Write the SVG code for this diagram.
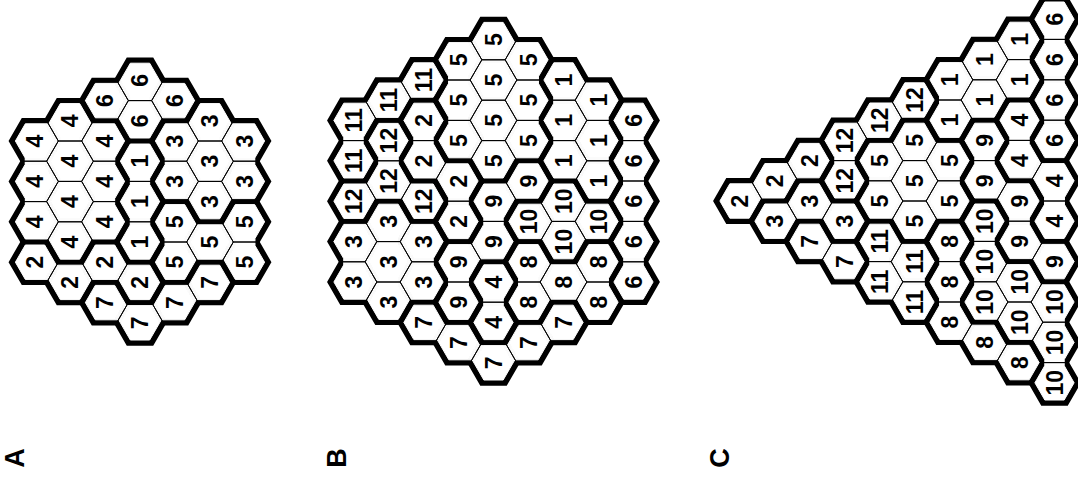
<svg xmlns="http://www.w3.org/2000/svg" width="1078" height="489" viewBox="0 0 1078 489">
<style>
.blk{fill:#000;stroke:#000;stroke-width:5.4;stroke-linejoin:miter}
.wht{fill:#fff;stroke:#fff;stroke-width:1;filter:url(#er)}
.thin{fill:none;stroke:#000;stroke-width:1}
.t text{font-family:"Liberation Sans",Arial,sans-serif;font-weight:bold;font-size:23px;text-anchor:middle;dominant-baseline:central;fill:#000}
.t text.big{font-size:27px}
</style>
<defs>
<polygon id="hx" points="23.33,0 11.67,20.2 -11.67,20.2 -23.33,0 -11.67,-20.2 11.67,-20.2"/>
<filter id="er" x="-20%" y="-20%" width="140%" height="140%" color-interpolation-filters="sRGB"><feMorphology operator="erode" radius="2 3"/></filter>

<g id="A-r1"><use href="#hx" x="105" y="-40.4"/><use href="#hx" x="105" y="0"/><use href="#hx" x="105" y="40.4"/></g>
<g id="A-r2"><use href="#hx" x="0" y="60.6"/><use href="#hx" x="35" y="80.8"/><use href="#hx" x="70" y="60.6"/><use href="#hx" x="105" y="80.8"/></g>
<g id="A-r3"><use href="#hx" x="140" y="-60.6"/><use href="#hx" x="140" y="-20.2"/><use href="#hx" x="175" y="-80.8"/><use href="#hx" x="175" y="-40.4"/><use href="#hx" x="175" y="0"/><use href="#hx" x="210" y="-60.6"/><use href="#hx" x="210" y="-20.2"/></g>
<g id="A-r4"><use href="#hx" x="0" y="-60.6"/><use href="#hx" x="0" y="-20.2"/><use href="#hx" x="0" y="20.2"/><use href="#hx" x="35" y="-80.8"/><use href="#hx" x="35" y="-40.4"/><use href="#hx" x="35" y="0"/><use href="#hx" x="35" y="40.4"/><use href="#hx" x="70" y="-60.6"/><use href="#hx" x="70" y="-20.2"/><use href="#hx" x="70" y="20.2"/></g>
<g id="A-r5"><use href="#hx" x="140" y="20.2"/><use href="#hx" x="140" y="60.6"/><use href="#hx" x="175" y="40.4"/><use href="#hx" x="210" y="20.2"/><use href="#hx" x="210" y="60.6"/></g>
<g id="A-r6"><use href="#hx" x="70" y="-101"/><use href="#hx" x="105" y="-121.2"/><use href="#hx" x="105" y="-80.8"/><use href="#hx" x="140" y="-101"/></g>
<g id="A-r7"><use href="#hx" x="70" y="101"/><use href="#hx" x="105" y="121.2"/><use href="#hx" x="140" y="101"/><use href="#hx" x="175" y="80.8"/></g>
<g id="A-all"><use href="#A-r1"/><use href="#A-r2"/><use href="#A-r3"/><use href="#A-r4"/><use href="#A-r5"/><use href="#A-r6"/><use href="#A-r7"/></g>

<g id="B-r1"><use href="#hx" x="210" y="-121.2"/><use href="#hx" x="210" y="-80.8"/><use href="#hx" x="210" y="-40.4"/><use href="#hx" x="245" y="-101"/><use href="#hx" x="245" y="-60.6"/><use href="#hx" x="245" y="-20.2"/></g>
<g id="B-r2"><use href="#hx" x="70" y="-80.8"/><use href="#hx" x="70" y="-40.4"/><use href="#hx" x="105" y="-20.2"/><use href="#hx" x="105" y="20.2"/></g>
<g id="B-r3"><use href="#hx" x="0" y="40.4"/><use href="#hx" x="0" y="80.8"/><use href="#hx" x="35" y="20.2"/><use href="#hx" x="35" y="60.6"/><use href="#hx" x="35" y="101"/><use href="#hx" x="70" y="40.4"/><use href="#hx" x="70" y="80.8"/></g>
<g id="B-r4"><use href="#hx" x="140" y="80.8"/><use href="#hx" x="140" y="121.2"/></g>
<g id="B-r5"><use href="#hx" x="105" y="-141.4"/><use href="#hx" x="105" y="-101"/><use href="#hx" x="105" y="-60.6"/><use href="#hx" x="140" y="-161.6"/><use href="#hx" x="140" y="-121.2"/><use href="#hx" x="140" y="-80.8"/><use href="#hx" x="140" y="-40.4"/><use href="#hx" x="175" y="-141.4"/><use href="#hx" x="175" y="-101"/><use href="#hx" x="175" y="-60.6"/></g>
<g id="B-r6"><use href="#hx" x="280" y="-80.8"/><use href="#hx" x="280" y="-40.4"/><use href="#hx" x="280" y="0"/><use href="#hx" x="280" y="40.4"/><use href="#hx" x="280" y="80.8"/></g>
<g id="B-r7"><use href="#hx" x="70" y="121.2"/><use href="#hx" x="105" y="141.4"/><use href="#hx" x="140" y="161.6"/><use href="#hx" x="175" y="141.4"/><use href="#hx" x="210" y="121.2"/></g>
<g id="B-r8"><use href="#hx" x="175" y="60.6"/><use href="#hx" x="175" y="101"/><use href="#hx" x="210" y="80.8"/><use href="#hx" x="245" y="60.6"/><use href="#hx" x="245" y="101"/></g>
<g id="B-r9"><use href="#hx" x="105" y="60.6"/><use href="#hx" x="105" y="101"/><use href="#hx" x="140" y="0"/><use href="#hx" x="140" y="40.4"/><use href="#hx" x="175" y="-20.2"/></g>
<g id="B-r10"><use href="#hx" x="175" y="20.2"/><use href="#hx" x="210" y="0"/><use href="#hx" x="210" y="40.4"/><use href="#hx" x="245" y="20.2"/></g>
<g id="B-r11"><use href="#hx" x="0" y="-80.8"/><use href="#hx" x="0" y="-40.4"/><use href="#hx" x="35" y="-101"/><use href="#hx" x="70" y="-121.2"/></g>
<g id="B-r12"><use href="#hx" x="0" y="0"/><use href="#hx" x="35" y="-60.6"/><use href="#hx" x="35" y="-20.2"/><use href="#hx" x="70" y="0"/></g>
<g id="B-all"><use href="#B-r1"/><use href="#B-r2"/><use href="#B-r3"/><use href="#B-r4"/><use href="#B-r5"/><use href="#B-r6"/><use href="#B-r7"/><use href="#B-r8"/><use href="#B-r9"/><use href="#B-r10"/><use href="#B-r11"/><use href="#B-r12"/></g>

<g id="C-r1"><use href="#hx" x="210" y="-121.2"/><use href="#hx" x="210" y="-80.8"/><use href="#hx" x="245" y="-141.4"/><use href="#hx" x="245" y="-101"/><use href="#hx" x="280" y="-161.6"/><use href="#hx" x="280" y="-121.2"/></g>
<g id="C-r2"><use href="#hx" x="0" y="0"/><use href="#hx" x="35" y="-20.2"/><use href="#hx" x="70" y="-40.4"/></g>
<g id="C-r3"><use href="#hx" x="35" y="20.2"/><use href="#hx" x="70" y="0"/><use href="#hx" x="105" y="20.2"/></g>
<g id="C-r4"><use href="#hx" x="280" y="-80.8"/><use href="#hx" x="280" y="-40.4"/><use href="#hx" x="315" y="-20.2"/><use href="#hx" x="315" y="20.2"/></g>
<g id="C-r5"><use href="#hx" x="140" y="-40.4"/><use href="#hx" x="140" y="0"/><use href="#hx" x="175" y="-60.6"/><use href="#hx" x="175" y="-20.2"/><use href="#hx" x="175" y="20.2"/><use href="#hx" x="210" y="-40.4"/><use href="#hx" x="210" y="0"/></g>
<g id="C-r6"><use href="#hx" x="315" y="-181.8"/><use href="#hx" x="315" y="-141.4"/><use href="#hx" x="315" y="-101"/><use href="#hx" x="315" y="-60.6"/></g>
<g id="C-r7"><use href="#hx" x="70" y="40.4"/><use href="#hx" x="105" y="60.6"/></g>
<g id="C-r8"><use href="#hx" x="210" y="40.4"/><use href="#hx" x="210" y="80.8"/><use href="#hx" x="210" y="121.2"/><use href="#hx" x="245" y="141.4"/><use href="#hx" x="280" y="161.6"/></g>
<g id="C-r9"><use href="#hx" x="245" y="-60.6"/><use href="#hx" x="245" y="-20.2"/><use href="#hx" x="280" y="0"/><use href="#hx" x="280" y="40.4"/><use href="#hx" x="315" y="60.6"/></g>
<g id="C-r10"><use href="#hx" x="245" y="20.2"/><use href="#hx" x="245" y="60.6"/><use href="#hx" x="245" y="101"/><use href="#hx" x="280" y="80.8"/><use href="#hx" x="280" y="121.2"/><use href="#hx" x="315" y="101"/><use href="#hx" x="315" y="141.4"/><use href="#hx" x="315" y="181.8"/></g>
<g id="C-r11"><use href="#hx" x="140" y="40.4"/><use href="#hx" x="140" y="80.8"/><use href="#hx" x="175" y="60.6"/><use href="#hx" x="175" y="101"/></g>
<g id="C-r12"><use href="#hx" x="105" y="-60.6"/><use href="#hx" x="105" y="-20.2"/><use href="#hx" x="140" y="-80.8"/><use href="#hx" x="175" y="-101"/></g>
<g id="C-all"><use href="#C-r1"/><use href="#C-r2"/><use href="#C-r3"/><use href="#C-r4"/><use href="#C-r5"/><use href="#C-r6"/><use href="#C-r7"/><use href="#C-r8"/><use href="#C-r9"/><use href="#C-r10"/><use href="#C-r11"/><use href="#C-r12"/></g>
</defs>

<rect width="1078" height="489" fill="#fff"/>

<g id="figA" transform="translate(35,201.6)">
<use href="#A-all" class="blk"/>
<g id="A-regions"><use href="#A-r1" class="wht"/><use href="#A-r2" class="wht"/><use href="#A-r3" class="wht"/><use href="#A-r4" class="wht"/><use href="#A-r5" class="wht"/><use href="#A-r6" class="wht"/><use href="#A-r7" class="wht"/></g>
<use href="#A-all" class="thin"/>
<g id="A-labels" class="t" transform="rotate(-90)">
<text x="40.4" y="105">1</text><text x="0" y="105">1</text><text x="-40.4" y="105">1</text>
<text x="-60.6" y="0">2</text><text x="-80.8" y="35">2</text><text x="-60.6" y="70">2</text><text x="-80.8" y="105">2</text>
<text x="60.6" y="140">3</text><text x="20.2" y="140">3</text><text x="80.8" y="175">3</text><text x="40.4" y="175">3</text><text x="0" y="175">3</text><text x="60.6" y="210">3</text><text x="20.2" y="210">3</text>
<text x="60.6" y="0">4</text><text x="20.2" y="0">4</text><text x="-20.2" y="0">4</text><text x="80.8" y="35">4</text><text x="40.4" y="35">4</text><text x="0" y="35">4</text><text x="-40.4" y="35">4</text><text x="60.6" y="70">4</text><text x="20.2" y="70">4</text><text x="-20.2" y="70">4</text>
<text x="-20.2" y="140">5</text><text x="-60.6" y="140">5</text><text x="-40.4" y="175">5</text><text x="-20.2" y="210">5</text><text x="-60.6" y="210">5</text>
<text x="101" y="70">6</text><text x="121.2" y="105">6</text><text x="80.8" y="105">6</text><text x="101" y="140">6</text>
<text x="-101" y="70">7</text><text x="-121.2" y="105">7</text><text x="-101" y="140">7</text><text x="-80.8" y="175">7</text>
</g>
</g>

<g id="figB" transform="translate(353.5,201.2)">
<use href="#B-all" class="blk"/>
<g id="B-regions"><use href="#B-r1" class="wht"/><use href="#B-r2" class="wht"/><use href="#B-r3" class="wht"/><use href="#B-r4" class="wht"/><use href="#B-r5" class="wht"/><use href="#B-r6" class="wht"/><use href="#B-r7" class="wht"/><use href="#B-r8" class="wht"/><use href="#B-r9" class="wht"/><use href="#B-r10" class="wht"/><use href="#B-r11" class="wht"/><use href="#B-r12" class="wht"/></g>
<use href="#B-all" class="thin"/>
<g id="B-labels" class="t" transform="rotate(-90)">
<text x="121.2" y="210">1</text><text x="80.8" y="210">1</text><text x="40.4" y="210">1</text><text x="101" y="245">1</text><text x="60.6" y="245">1</text><text x="20.2" y="245">1</text>
<text x="80.8" y="70">2</text><text x="40.4" y="70">2</text><text x="20.2" y="105">2</text><text x="-20.2" y="105">2</text>
<text x="-40.4" y="0">3</text><text x="-80.8" y="0">3</text><text x="-20.2" y="35">3</text><text x="-60.6" y="35">3</text><text x="-101" y="35">3</text><text x="-40.4" y="70">3</text><text x="-80.8" y="70">3</text>
<text x="-80.8" y="140">4</text><text x="-121.2" y="140">4</text>
<text x="141.4" y="105">5</text><text x="101" y="105">5</text><text x="60.6" y="105">5</text><text x="161.6" y="140">5</text><text x="121.2" y="140">5</text><text x="80.8" y="140">5</text><text x="40.4" y="140">5</text><text x="141.4" y="175">5</text><text x="101" y="175">5</text><text x="60.6" y="175">5</text>
<text x="80.8" y="280">6</text><text x="40.4" y="280">6</text><text x="0" y="280">6</text><text x="-40.4" y="280">6</text><text x="-80.8" y="280">6</text>
<text x="-121.2" y="70">7</text><text x="-141.4" y="105">7</text><text x="-161.6" y="140">7</text><text x="-141.4" y="175">7</text><text x="-121.2" y="210">7</text>
<text x="-60.6" y="175">8</text><text x="-101" y="175">8</text><text x="-80.8" y="210">8</text><text x="-60.6" y="245">8</text><text x="-101" y="245">8</text>
<text x="-60.6" y="105">9</text><text x="-101" y="105">9</text><text x="0" y="140">9</text><text x="-40.4" y="140">9</text><text x="20.2" y="175">9</text>
<text x="-20.2" y="175">10</text><text x="0" y="210">10</text><text x="-40.4" y="210">10</text><text x="-20.2" y="245">10</text>
<text x="80.8" y="0">11</text><text x="40.4" y="0">11</text><text x="101" y="35">11</text><text x="121.2" y="70">11</text>
<text x="0" y="0">12</text><text x="60.6" y="35">12</text><text x="20.2" y="35">12</text><text x="0" y="70">12</text>
</g>
</g>

<g id="figC" transform="translate(739.5,201)">
<use href="#C-all" class="blk"/>
<g id="C-regions"><use href="#C-r1" class="wht"/><use href="#C-r2" class="wht"/><use href="#C-r3" class="wht"/><use href="#C-r4" class="wht"/><use href="#C-r5" class="wht"/><use href="#C-r6" class="wht"/><use href="#C-r7" class="wht"/><use href="#C-r8" class="wht"/><use href="#C-r9" class="wht"/><use href="#C-r10" class="wht"/><use href="#C-r11" class="wht"/><use href="#C-r12" class="wht"/></g>
<use href="#C-all" class="thin"/>
<g id="C-labels" class="t" transform="rotate(-90)">
<text x="121.2" y="210">1</text><text x="80.8" y="210">1</text><text x="141.4" y="245">1</text><text x="101" y="245">1</text><text x="161.6" y="280">1</text><text x="121.2" y="280">1</text>
<text x="0" y="0">2</text><text x="20.2" y="35">2</text><text x="40.4" y="70">2</text>
<text x="-20.2" y="35">3</text><text x="0" y="70">3</text><text x="-20.2" y="105">3</text>
<text x="80.8" y="280">4</text><text x="40.4" y="280">4</text><text x="20.2" y="315">4</text><text x="-20.2" y="315">4</text>
<text x="40.4" y="140">5</text><text x="0" y="140">5</text><text x="60.6" y="175">5</text><text x="20.2" y="175">5</text><text x="-20.2" y="175">5</text><text x="40.4" y="210">5</text><text x="0" y="210">5</text>
<text x="181.8" y="315">6</text><text x="141.4" y="315">6</text><text x="101" y="315">6</text><text x="60.6" y="315">6</text>
<text x="-40.4" y="70">7</text><text x="-60.6" y="105">7</text>
<text x="-40.4" y="210">8</text><text x="-80.8" y="210">8</text><text x="-121.2" y="210">8</text><text x="-141.4" y="245">8</text><text x="-161.6" y="280">8</text>
<text x="60.6" y="245">9</text><text x="20.2" y="245">9</text><text x="0" y="280">9</text><text x="-40.4" y="280">9</text><text x="-60.6" y="315">9</text>
<text x="-20.2" y="245">10</text><text x="-60.6" y="245">10</text><text x="-101" y="245">10</text><text x="-80.8" y="280">10</text><text x="-121.2" y="280">10</text><text x="-101" y="315">10</text><text x="-141.4" y="315">10</text><text x="-181.8" y="315">10</text>
<text x="-40.4" y="140">11</text><text x="-80.8" y="140">11</text><text x="-60.6" y="175">11</text><text x="-101" y="175">11</text>
<text x="60.6" y="105">12</text><text x="20.2" y="105">12</text><text x="80.8" y="140">12</text><text x="101" y="175">12</text>
</g>
</g>

<g id="panel-letters" class="t" transform="rotate(-90)">
<text class="big" x="-458" y="15">A</text>
<text class="big" x="-458" y="337">B</text>
<text class="big" x="-458" y="720">C</text>
</g>
</svg>
